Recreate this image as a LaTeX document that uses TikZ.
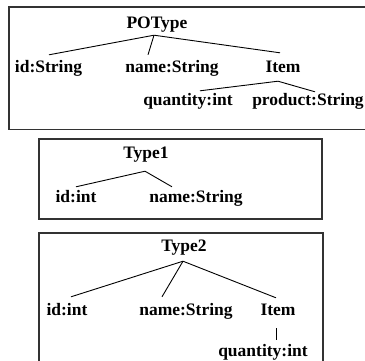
\documentclass[tikz,border=0pt]{standalone}
\usepackage{fontspec}
\setmainfont{Liberation Serif}
\begin{document}
\begin{tikzpicture}[x=1pt,y=-1pt,
  lbl/.style={anchor=base,inner sep=0pt,text height=12pt,text depth=4pt,
    font=\fontsize{17.5}{20}\selectfont\bfseries},
  frame/.style={draw=black!80,line width=1.3pt},
  edge/.style={draw=black,line width=0.9pt}]
\useasboundingbox (0,0) rectangle (365,360);
\clip (0,0) rectangle (365,360);
% boxes
\draw[frame] (9,7) rectangle (372,129.5);
\draw[frame] (39,139) rectangle (322,219);
\draw[frame] (39,233) rectangle (323,368);
% box 1
\node[lbl] (po) at (157,28) {POType};
\node[lbl] (ids) at (48.5,72) {id:String};
\node[lbl] (names) at (172,72) {name:String};
\node[lbl] (item) at (283,72) {Item};
\node[lbl] (qty) at (188,105) {quantity:int};
\node[lbl] (prod) at (308,105) {product:String};
\draw[edge] ([xshift=-3pt,yshift=-3pt]po.south) -- ([xshift=0.5pt,yshift=5pt]ids.north);
\draw[edge] ([xshift=-3pt,yshift=-3pt]po.south) -- ([xshift=-24pt,yshift=5pt]names.north);
\draw[edge] ([xshift=-3pt,yshift=-3pt]po.south) -- ([xshift=-3pt,yshift=7pt]item.north);
\draw[edge] ([xshift=-5pt,yshift=-5pt]item.south) -- ([xshift=12pt,yshift=2pt]qty.north);
\draw[edge] ([xshift=-5pt,yshift=-5pt]item.south) -- ([xshift=7pt,yshift=1pt]prod.north);
% box 2
\node[lbl] (t1) at (146,158) {Type1};
\node[lbl] (id1) at (76,202) {id:int};
\node[lbl] (name1) at (196,202) {name:String};
\draw[edge] ([xshift=-1pt,yshift=-9pt]t1.south) -- ([yshift=3pt]id1.north);
\draw[edge] ([xshift=-1pt,yshift=-9pt]t1.south) -- ([xshift=-24pt,yshift=3pt]name1.north);
% box 3
\node[lbl] (t2) at (184,251) {Type2};
\node[lbl] (id2) at (67,315) {id:int};
\node[lbl] (name2) at (186,315) {name:String};
\node[lbl] (item2) at (278,315) {Item};
\node[lbl] (qty2) at (263,356) {quantity:int};
\draw[edge] ([xshift=-1pt,yshift=-6pt]t2.south) -- ([xshift=4pt,yshift=6pt]id2.north);
\draw[edge] ([xshift=-1pt,yshift=-6pt]t2.south) -- ([xshift=-24pt,yshift=6pt]name2.north);
\draw[edge] ([xshift=-1pt,yshift=-6pt]t2.south) -- ([xshift=-2pt,yshift=5pt]item2.north);
\draw[edge] ([xshift=-2pt,yshift=-9pt]item2.south) -- ([xshift=13pt,yshift=4pt]qty2.north);
\end{tikzpicture}
\end{document}
